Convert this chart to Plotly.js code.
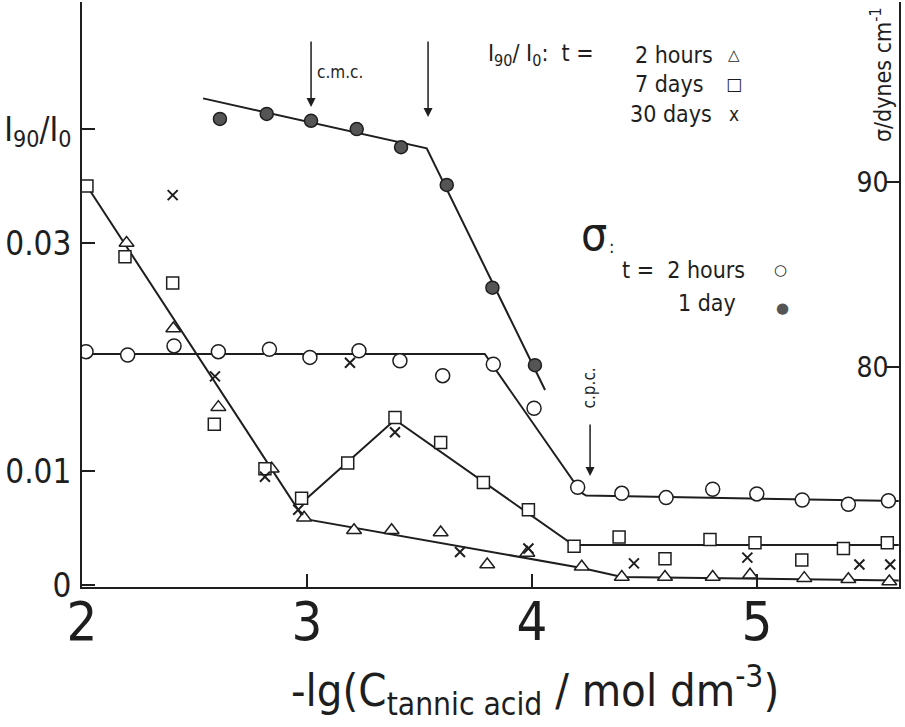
<!DOCTYPE html>
<html>
<head>
<meta charset="utf-8">
<script src="https://cdn.plot.ly/plotly-3.0.1.min.js"></script>
<style>html,body{margin:0;padding:0;background:#fff;}#chart{width:905px;height:727px;}</style>
</head>
<body>
<div id="chart"></div>
<script>
// ---- data ----
// I90/I0, t = 2 hours (triangles)
const xTri = [2.198, 2.406, 2.606, 2.843, 2.987, 3.209, 3.376, 3.594, 3.801, 3.979, 4.221, 4.399, 4.591, 4.803, 4.969, 5.21, 5.406, 5.588];
const yTri = [0.0300, 0.0225, 0.0156, 0.0102, 0.0059, 0.0048, 0.0048, 0.0046, 0.0018, 0.0028, 0.0016, 0.0007, 0.0007, 0.0007, 0.0009, 0.0006, 0.0005, 0.0003];
// I90/I0, t = 7 days (squares)
const xSq = [2.022, 2.191, 2.403, 2.588, 2.813, 2.976, 3.181, 3.391, 3.594, 3.784, 3.984, 4.187, 4.387, 4.591, 4.791, 4.991, 5.199, 5.384, 5.579];
const ySq = [0.0350, 0.0288, 0.0265, 0.0141, 0.0102, 0.0076, 0.0107, 0.0147, 0.0125, 0.0090, 0.0066, 0.0034, 0.0042, 0.0023, 0.0040, 0.0037, 0.0022, 0.0032, 0.0037];
// I90/I0, t = 30 days (crosses)
const xX = [2.403, 2.591, 2.813, 2.961, 3.191, 3.391, 3.68, 3.984, 4.453, 4.957, 5.455, 5.592];
const yX = [0.0342, 0.0183, 0.0095, 0.0066, 0.0195, 0.0134, 0.0029, 0.0032, 0.0019, 0.0024, 0.0018, 0.0018];
// sigma, t = 2 hours (open circles)
const xSigOpen = [2.018, 2.203, 2.409, 2.606, 2.833, 3.013, 3.231, 3.413, 3.603, 3.828, 4.009, 4.203, 4.399, 4.596, 4.803, 4.999, 5.201, 5.406, 5.584];
const ySigOpen = [80.83, 80.65, 81.14, 80.83, 80.96, 80.52, 80.88, 80.34, 79.53, 80.15, 77.77, 73.50, 73.17, 72.94, 73.39, 73.14, 72.81, 72.58, 72.77];
// sigma, t = 1 day (filled circles)
const xSigFill = [2.613, 2.821, 3.018, 3.221, 3.418, 3.621, 3.824, 4.013];
const ySigFill = [93.41, 93.68, 93.31, 92.86, 91.88, 89.84, 84.29, 80.10];
// hand-drawn fitted lines
const fitTriX = [2.022, 2.987, 4.221, 4.40, 5.63];
const fitTriY = [0.0350, 0.0058, 0.0015, 0.0007, 0.0004];
const fitSqX = [2.976, 3.391, 4.184, 5.63];
const fitSqY = [0.0072, 0.0145, 0.0035, 0.0035];
const fitOpenX = [2.0, 3.79, 4.22, 4.24, 5.63];
const fitOpenY = [80.7, 80.7, 73.2, 73.05, 72.75];
const fitFillX = [2.538, 3.532, 4.058];
const fitFillY = [94.52, 91.82, 78.76];
// ticks
const xTickVals = [2, 3, 4, 5];
const xTickText = ['2', '3', '4', '5'];
const yTickVals = [0, 0.01, 0.03, 0.04];
const yTickText = ['0', '0.01', '0.03', 'I<sub>90</sub>/I<sub>0</sub>'];
const y2TickVals = [80, 90];
const y2TickText = ['80', '90'];

const INK = '#1e1e1e';
const FONT = '"DejaVu Sans Condensed", "Liberation Sans Narrow", "Liberation Sans", Arial, sans-serif';
const lineStyle = {color: INK, width: 2};

const traces = [
  {x: fitTriX, y: fitTriY, mode: 'lines', line: lineStyle, yaxis: 'y', hoverinfo: 'skip'},
  {x: fitSqX, y: fitSqY, mode: 'lines', line: lineStyle, yaxis: 'y', hoverinfo: 'skip'},
  {x: fitOpenX, y: fitOpenY, mode: 'lines', line: lineStyle, yaxis: 'y2', hoverinfo: 'skip'},
  {x: fitFillX, y: fitFillY, mode: 'lines', line: lineStyle, yaxis: 'y2', hoverinfo: 'skip'},
  {x: xTri, y: yTri, mode: 'markers', yaxis: 'y', name: '2 hours',
   marker: {symbol: 'triangle-up', size: 13, color: '#ffffff', line: {color: INK, width: 1.5}}},
  {x: xSq, y: ySq, mode: 'markers', yaxis: 'y', name: '7 days',
   marker: {symbol: 'square', size: 12, color: '#ffffff', line: {color: INK, width: 1.5}}},
  {x: xX, y: yX, mode: 'markers', yaxis: 'y', name: '30 days',
   marker: {symbol: 'x-thin', size: 10, color: INK, line: {color: INK, width: 2}}},
  {x: xSigOpen, y: ySigOpen, mode: 'markers', yaxis: 'y2', name: 'σ 2 hours',
   marker: {symbol: 'circle', size: 14, color: '#ffffff', line: {color: INK, width: 1.5}}},
  {x: xSigFill, y: ySigFill, mode: 'markers', yaxis: 'y2', name: 'σ 1 day',
   marker: {symbol: 'circle', size: 13, color: '#555555', line: {color: INK, width: 1.5}}}
];

const nb = '\u00a0';
const ann = (o) => Object.assign({xref: 'paper', yref: 'paper', showarrow: false, xanchor: 'center', yanchor: 'middle',
  font: {family: FONT, size: 23, color: INK}}, o);
const arrow = (x, y, ay) => ({xref: 'x', yref: 'paper', x: x, y: y, ax: 0, ay: ay, text: '', showarrow: true,
  arrowhead: 2, arrowsize: 1.2, arrowwidth: 1.5, arrowcolor: INK});

const layout = {
  width: 905, height: 727,
  margin: {l: 82, r: 6, t: 2, b: 140},
  paper_bgcolor: '#ffffff', plot_bgcolor: '#ffffff',
  showlegend: false,
  font: {family: FONT, color: INK},
  xaxis: {
    range: [2, 5.631], tickvals: xTickVals, ticktext: xTickText,
    ticks: 'inside', ticklen: 13, tickwidth: 2, tickcolor: INK,
    showline: true, linewidth: 2, linecolor: INK, showgrid: false, zeroline: false,
    tickfont: {family: FONT, size: 54, color: INK}, ticklabelstandoff: -14
  },
  yaxis: {
    range: [-0.000175, 0.05114], tickvals: yTickVals, ticktext: yTickText,
    ticks: 'inside', ticklen: 13, tickwidth: 2, tickcolor: INK,
    showline: true, linewidth: 2, linecolor: INK, showgrid: false, zeroline: false,
    tickfont: {family: FONT, size: 33, color: INK}, ticklabelstandoff: 2
  },
  yaxis2: {
    overlaying: 'y', side: 'right',
    range: [68.108, 99.73], tickvals: y2TickVals, ticktext: y2TickText,
    ticks: 'inside', ticklen: 13, tickwidth: 2, tickcolor: INK, ticklabelposition: 'inside',
    showline: true, linewidth: 2, linecolor: INK, showgrid: false, zeroline: false,
    tickfont: {family: FONT, size: 28, color: INK}
  },
  annotations: [
    ann({text: '-lg(C<sub>tannic acid</sub> / mol dm<sup>-3</sup>)', x: 0.555, y: -0.176, font: {family: FONT, size: 45, color: INK}}),
    ann({text: 'c.m.c.', x: 0.316, y: 0.880, font: {family: FONT, size: 17, color: INK}}),
    arrow(3.018, 0.8205, -67),
    arrow(3.538, 0.8034, -77),
    ann({text: 'c.p.c.', x: 0.621, y: 0.340, textangle: -90, font: {family: FONT, size: 17, color: INK}}),
    arrow(4.258, 0.1897, -53),
    ann({text: 'I<sub>90</sub>/' + nb + 'I<sub>0</sub>:' + nb + nb + 't' + nb + '=', x: 0.494, y: 0.9094, xanchor: 'left'}),
    ann({text: '2' + nb + 'hours', x: 0.674, y: 0.9094, xanchor: 'left'}),
    ann({text: '7' + nb + 'days', x: 0.675, y: 0.8598, xanchor: 'left'}),
    ann({text: '30' + nb + 'days', x: 0.668, y: 0.8085, xanchor: 'left'}),
    ann({text: '△', x: 0.798, y: 0.9094, font: {family: 'DejaVu Sans', size: 15, color: INK}}),
    ann({text: '□', x: 0.798, y: 0.8598, font: {family: 'DejaVu Sans', size: 17, color: INK}}),
    ann({text: 'x', x: 0.798, y: 0.8085, font: {family: FONT, size: 19, color: INK}}),
    ann({text: 'σ', x: 0.6262, y: 0.6034, font: {family: FONT, size: 46, color: INK}}),
    ann({text: ':', x: 0.648, y: 0.582, font: {family: FONT, size: 18, color: INK}}),
    ann({text: 't' + nb + '=' + nb + nb + '2' + nb + 'hours', x: 0.659, y: 0.5419, xanchor: 'left'}),
    ann({text: '○', x: 0.855, y: 0.5419, font: {family: 'DejaVu Sans', size: 15, color: INK}}),
    ann({text: '1' + nb + 'day', x: 0.727, y: 0.4855, xanchor: 'left'}),
    ann({text: '●', x: 0.858, y: 0.4769, font: {family: 'DejaVu Sans', size: 15, color: '#555555'}}),
    ann({text: 'σ/dynes' + nb + 'cm<sup>-1</sup>', x: 0.978, y: 0.8752, textangle: -90, font: {family: FONT, size: 23, color: INK}})
  ]
};

Plotly.newPlot('chart', traces, layout, {displayModeBar: false, staticPlot: true});
</script>
</body>
</html>
